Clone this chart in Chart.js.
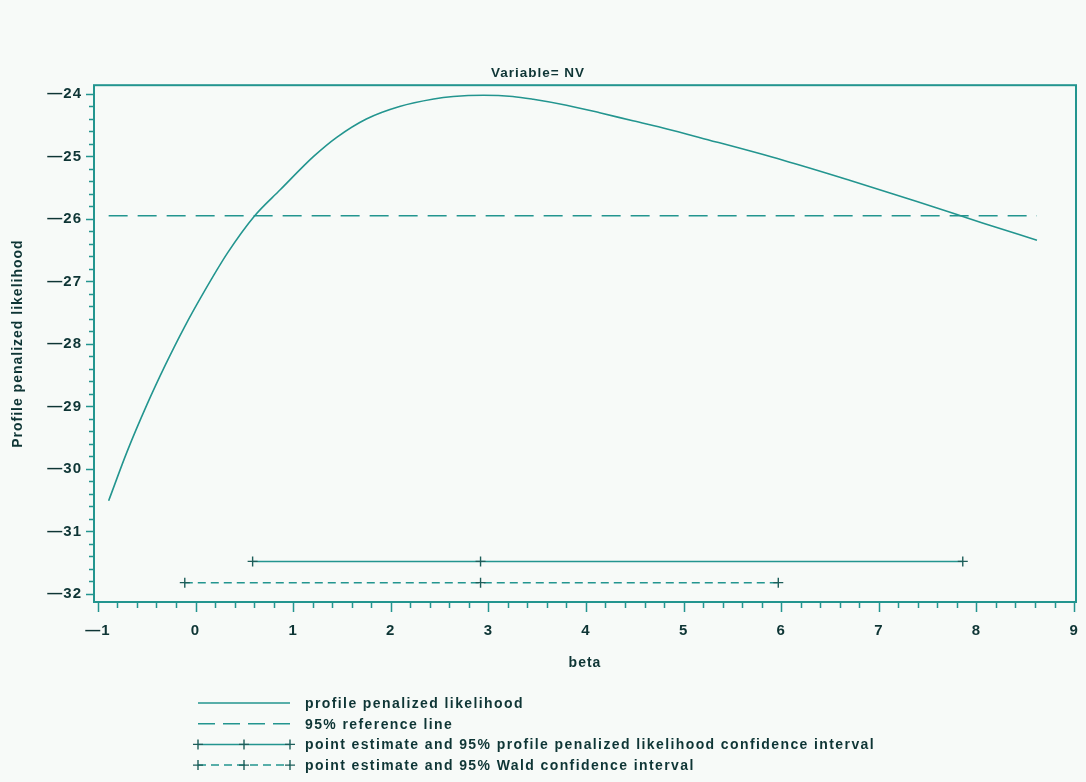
<!DOCTYPE html>
<html>
<head>
<meta charset="utf-8">
<title>Variable= NV</title>
<script src="https://cdn.jsdelivr.net/npm/chart.js@4.4.1/dist/chart.umd.min.js"></script>
<style>
  html, body { margin: 0; padding: 0; background: #f7faf8; }
  #wrap { width: 1086px; height: 782px; }
</style>
</head>
<body>
<div id="wrap"><canvas id="plot"></canvas></div>
<script>
// profile penalized likelihood curve
const betaValues = [-0.89, -0.70, -0.50, -0.31, -0.12, 0.09, 0.33, 0.60, 0.87, 1.21, 1.45, 1.75,
  2.09, 2.44, 2.64, 2.95, 3.25, 3.46, 3.80, 4.14, 4.48, 4.83, 5.17, 6.02, 6.70, 7.39, 7.80, 8.07, 8.62];
const profileLik = [-30.51, -29.72, -28.98, -28.34, -27.75, -27.16, -26.54, -25.96, -25.53, -25.00, -24.69, -24.40,
  -24.20, -24.08, -24.04, -24.02, -24.04, -24.085, -24.18, -24.30, -24.43, -24.56, -24.70, -25.06, -25.38, -25.72, -25.93, -26.07, -26.34];

// 95% reference line
const refLineBeta = [-0.89, 8.62];
const refLineLevel = [-25.95, -25.95];

// point estimate and confidence intervals (lower, estimate, upper)
const profileCiBeta = [0.585, 2.92, 7.86];
const profileCiLevel = [-31.48, -31.48, -31.48];
const waldCiBeta = [-0.11, 2.92, 5.97];
const waldCiLevel = [-31.82, -31.82, -31.82];

const xTicks = [-1, 0, 1, 2, 3, 4, 5, 6, 7, 8, 9];
const xTickLabels = ['\u20141', '0', '1', '2', '3', '4', '5', '6', '7', '8', '9'];
const yTicks = [-32, -31, -30, -29, -28, -27, -26, -25, -24];
const yTickLabels = ['\u201432', '\u201431', '\u201430', '\u201429', '\u201428', '\u201427', '\u201426', '\u201425', '\u201424'];

const seriesLabels = [
  'profile penalized likelihood',
  '95% reference line',
  'point estimate and 95% profile penalized likelihood confidence interval',
  'point estimate and 95% Wald confidence interval'
];

const LINE = '#23958f';
const MARK = '#1d5e5a';
const INK = '#0e3535';
const FONT = 'Liberation Sans, Arial, sans-serif';

const toPoints = (xs, ys) => xs.map((x, i) => ({ x: x, y: ys[i] }));

// the old SAS fonts are spaced wide, so open up all canvas text a little
const wideText = {
  id: 'wideText',
  beforeUpdate(chart) { chart.ctx.letterSpacing = '1px'; },
  beforeDraw(chart) { chart.ctx.letterSpacing = '1px'; }
};

// box round the plot area plus major/minor tick marks
const axisFrame = {
  id: 'axisFrame',
  beforeDatasetsDraw(chart) {
    const { ctx, chartArea: a, scales: { x, y } } = chart;
    ctx.save();
    ctx.strokeStyle = LINE;
    ctx.lineWidth = 2;
    ctx.strokeRect(a.left, a.top, a.right - a.left, a.bottom - a.top);
    ctx.lineWidth = 1.5;
    ctx.beginPath();
    for (let k = 0; k <= 40; k++) {
      const v = -32 + k * 0.2;
      const py = Math.round(y.getPixelForValue(v)) + 0.5;
      const len = k % 5 === 0 ? 8 : 5;
      ctx.moveTo(a.left - len, py);
      ctx.lineTo(a.left, py);
    }
    for (let k = 0; k <= 50; k++) {
      const v = -1 + k * 0.2;
      const px = Math.round(x.getPixelForValue(v)) + 0.5;
      const len = k % 5 === 0 ? 10 : 6;
      ctx.moveTo(px, a.bottom);
      ctx.lineTo(px, a.bottom + len);
    }
    ctx.stroke();
    ctx.restore();
  }
};

// SAS-style legend under the axis title
const sketchLegend = {
  id: 'sketchLegend',
  afterDraw(chart, args, opts) {
    const ctx = chart.ctx;
    ctx.save();
    chart.data.datasets.forEach((ds, i) => {
      const y = opts.top + i * opts.rowGap;
      ctx.strokeStyle = ds.borderColor;
      ctx.lineWidth = ds.borderWidth;
      ctx.setLineDash(ds.legendDash || ds.borderDash || []);
      ctx.beginPath();
      ctx.moveTo(opts.x0, y);
      ctx.lineTo(opts.x1, y);
      ctx.stroke();
      ctx.setLineDash([]);
      if (ds.pointRadius > 0) {
        ctx.strokeStyle = ds.pointBorderColor;
        ctx.lineWidth = ds.pointBorderWidth;
        [opts.x0, (opts.x0 + opts.x1) / 2, opts.x1].forEach(px => {
          ctx.beginPath();
          ctx.moveTo(px, y - 5); ctx.lineTo(px, y + 5);
          ctx.moveTo(px - 5, y); ctx.lineTo(px + 5, y);
          ctx.stroke();
        });
      }
      ctx.fillStyle = INK;
      ctx.font = 'bold 14px ' + FONT;
      ctx.letterSpacing = '1.4px';
      ctx.textBaseline = 'middle';
      ctx.fillText(ds.label, opts.textX, y + 1);
    });
    ctx.restore();
  }
};

new Chart(document.getElementById('plot'), {
  type: 'line',
  data: {
    datasets: [
      {
        label: seriesLabels[0],
        data: toPoints(betaValues, profileLik),
        borderColor: LINE,
        borderWidth: 1.6,
        pointRadius: 0,
        cubicInterpolationMode: 'monotone'
      },
      {
        label: seriesLabels[1],
        data: toPoints(refLineBeta, refLineLevel),
        borderColor: LINE,
        borderWidth: 1.6,
        borderDash: [19, 10],
        legendDash: [17, 8],
        pointRadius: 0
      },
      {
        label: seriesLabels[2],
        data: toPoints(profileCiBeta, profileCiLevel),
        borderColor: LINE,
        borderWidth: 1.5,
        pointStyle: 'cross',
        pointRadius: 5,
        pointBorderColor: MARK,
        pointBorderWidth: 1.4
      },
      {
        label: seriesLabels[3],
        data: toPoints(waldCiBeta, waldCiLevel),
        borderColor: LINE,
        borderWidth: 1.5,
        borderDash: [8, 5],
        pointStyle: 'cross',
        pointRadius: 5,
        pointBorderColor: MARK,
        pointBorderWidth: 1.4
      }
    ]
  },
  options: {
    responsive: true,
    maintainAspectRatio: false,
    devicePixelRatio: 1,
    animation: false,
    layout: { padding: { left: 0, right: 10, top: 0, bottom: 104 } },
    scales: {
      x: {
        type: 'linear',
        min: -1.04,
        max: 9.02,
        afterFit: s => { s.height = 76; s.paddingRight = 0; s.paddingLeft = 0; },
        grid: { display: false, drawTicks: false },
        border: { display: false },
        ticks: {
          stepSize: 1,
          includeBounds: false,
          maxRotation: 0,
          padding: 20,
          color: INK,
          font: { family: FONT, size: 15, weight: 'bold' },
          callback: v => xTickLabels[xTicks.indexOf(v)] ?? ''
        },
        title: {
          display: true,
          text: 'beta',
          color: INK,
          font: { family: FONT, size: 14, weight: 'bold' },
          padding: { top: 0, bottom: 6 }
        }
      },
      y: {
        min: -32.13,
        max: -23.86,
        afterFit: s => { s.width = 94; },
        grid: { display: false, drawTicks: false },
        border: { display: false },
        ticks: {
          stepSize: 1,
          includeBounds: false,
          padding: 12,
          color: INK,
          font: { family: FONT, size: 15, weight: 'bold' },
          callback: v => yTickLabels[yTicks.indexOf(v)] ?? ''
        },
        title: {
          display: true,
          text: 'Profile penalized likelihood',
          color: INK,
          font: { family: FONT, size: 14, weight: 'bold' },
          padding: { top: 10, bottom: 0 }
        }
      }
    },
    plugins: {
      legend: { display: false },
      tooltip: { enabled: false },
      title: {
        display: true,
        text: 'Variable= NV',
        color: INK,
        font: { family: FONT, size: 13.5, weight: 'bold' },
        padding: { top: 65, bottom: 4 }
      },
      sketchLegend: { top: 703, rowGap: 20.7, x0: 198, x1: 290, textX: 305 }
    }
  },
  plugins: [wideText, axisFrame, sketchLegend]
});
</script>
</body>
</html>
